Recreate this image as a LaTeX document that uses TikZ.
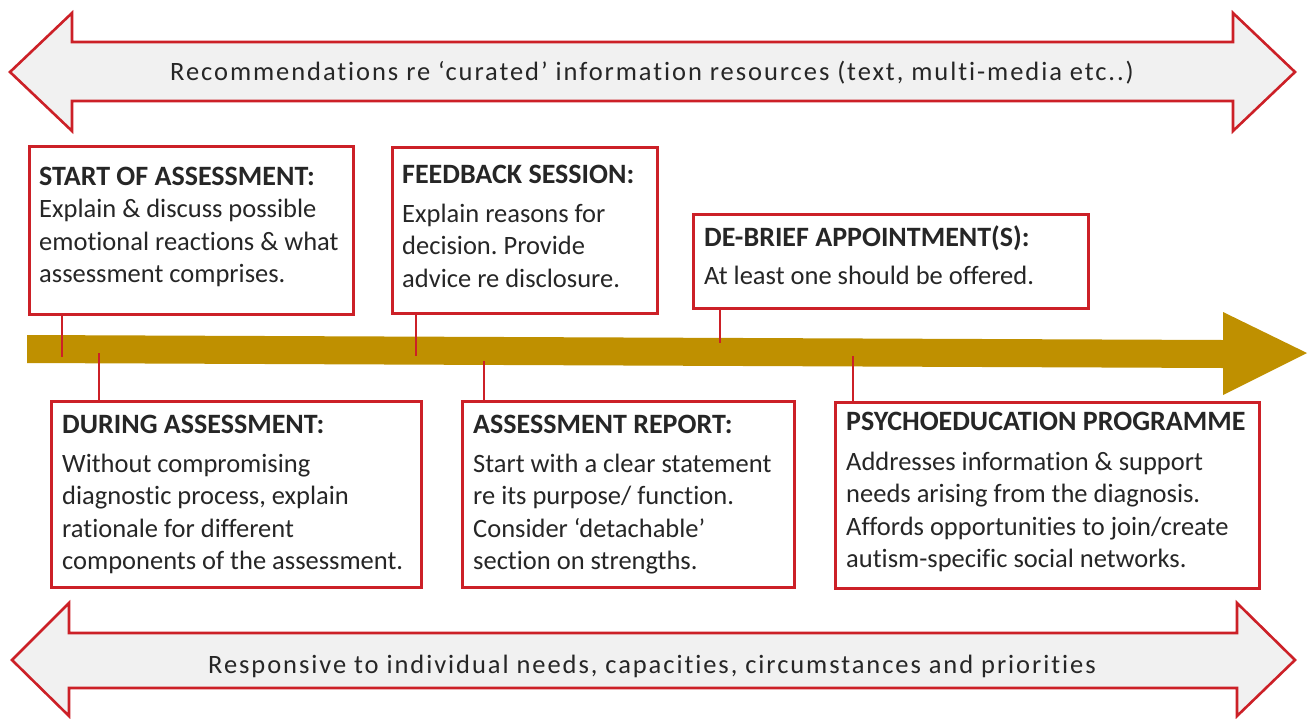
\documentclass[tikz,border=0pt]{standalone}
\usepackage{fontspec}
\setmainfont{Carlito}[Ligatures=NoCommon]
\frenchspacing
\definecolor{rimred}{RGB}{204,32,39}
\definecolor{bandfill}{RGB}{241,241,241}
\definecolor{gold}{RGB}{191,144,0}
\definecolor{ink}{RGB}{38,38,38}

\tikzset{
  band/.style={draw=rimred, line width=2.6pt, fill=bandfill, line join=miter},
  stagebox/.style={draw=rimred, line width=2.6pt, fill=white, rectangle,
    inner sep=0pt, anchor=north west},
  link/.style={draw=rimred, line width=2.6pt},
  txt/.style={inner sep=0pt, anchor=base west, text=ink,
    font=\fontsize{26.5}{32.5}\selectfont},
  bandtxt/.style={inner sep=0pt, anchor=base, text=ink,
    font=\fontsize{26.5}{32.5}\selectfont\addfontfeature{LetterSpace=7.3}},
}
\newcommand{\stagetext}[3]{\parbox[t]{460pt}{\raggedright
  {\fontsize{28}{32.5}\selectfont\bfseries #1}\\[#2]#3}}

\begin{document}
\begin{tikzpicture}[x=1pt, y=-1pt]
\useasboundingbox (0,0) rectangle (1314,718);

% top double arrow
\path[band] (10,72) -- (72,13) -- (72,42) -- (1233,42) -- (1233,13)
  -- (1295,72) -- (1233,131) -- (1233,101) -- (72,101) -- (72,131) -- cycle;
\node[bandtxt] (topband) at (652,80)
  {Recommendations re ‘curated’ information resources (text, multi-media etc..)};

% bottom double arrow
\path[band] (12,660) -- (69,603) -- (69,633) -- (1237,633) -- (1237,603)
  -- (1295,660) -- (1237,716) -- (1237,688) -- (69,688) -- (69,716) -- cycle;
\node[bandtxt] (botband) at (652,673)
  {Responsive to individual needs, capacities, circumstances and priorities};

% timeline
\fill[gold] (27,335) -- (1223,340) -- (1223,312) -- (1307,353)
  -- (1223,395) -- (1223,368) -- (27,363) -- cycle;

% stage boxes above the timeline
\node[stagebox, minimum width=324pt, minimum height=168pt] (start) at (28,145) {};
\node[stagebox, minimum width=265pt, minimum height=166pt] (feedback) at (391,146) {};
\node[stagebox, minimum width=395pt, minimum height=94pt] (debrief) at (692,213) {};

% stage boxes below the timeline
\node[stagebox, minimum width=370pt, minimum height=186pt] (during) at (50,400) {};
\node[stagebox, minimum width=332pt, minimum height=186pt] (report) at (461,400) {};
\node[stagebox, minimum width=424pt, minimum height=186pt] (psycho) at (834,401) {};

% points on the timeline where the boxes attach
\coordinate (pStart) at (62,357);
\coordinate (pFeedback) at (416,356);
\coordinate (pDebrief) at (720,343);
\coordinate (pDuring) at (99,353);
\coordinate (pReport) at (484,361);
\coordinate (pPsycho) at (853,356);

\draw[link] (start.south -| pStart) -- (pStart);
\draw[link] (feedback.south -| pFeedback) -- (pFeedback);
\draw[link] (debrief.south -| pDebrief) -- (pDebrief);
\draw[link] (pDuring) -- (during.north -| pDuring);
\draw[link] (pReport) -- (report.north -| pReport);
\draw[link] (pPsycho) -- (psycho.north -| pPsycho);

% box texts
\node[txt] (tStart) at (39,185) {\stagetext{START OF ASSESSMENT:}{0pt}{%
  Explain \& discuss possible\\ emotional reactions \& what\\ assessment comprises.}};
\node[txt] (tFeedback) at (402,183) {\stagetext{FEEDBACK SESSION:}{6.5pt}{%
  Explain reasons for\\ decision. Provide\\ advice re disclosure.}};
\node[txt] (tDebrief) at (704,246) {\stagetext{DE-BRIEF APPOINTMENT(S):}{6pt}{%
  At least one should be offered.}};
\node[txt] (tDuring) at (62,433) {\stagetext{DURING ASSESSMENT:}{6.5pt}{%
  Without compromising\\ diagnostic process, explain\\ rationale for different\\
  components of the assessment.}};
\node[txt] (tReport) at (473,433) {\stagetext{ASSESSMENT REPORT:}{6.5pt}{%
  Start with a clear statement\\ re its purpose/ function.\\
  Consider ‘detachable’\\ section on strengths.}};
\node[txt] (tPsycho) at (846,430) {\stagetext{PSYCHOEDUCATION PROGRAMME}{7.5pt}{%
  Addresses information \& support\\ needs arising from the diagnosis.\\
  Affords opportunities to join/create\\ autism-specific social networks.}};
\end{tikzpicture}
\end{document}
